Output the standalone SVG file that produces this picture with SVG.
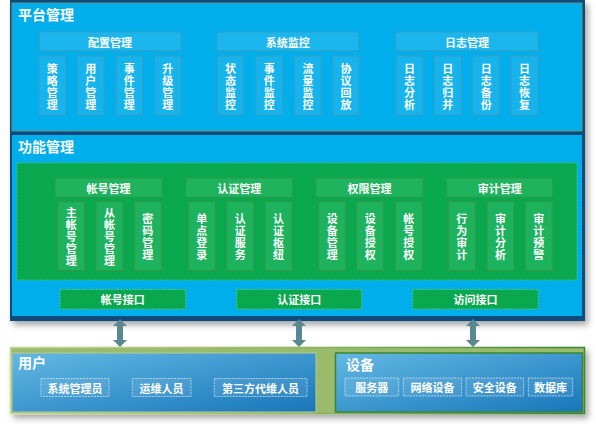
<svg xmlns="http://www.w3.org/2000/svg" width="596" height="432" viewBox="0 0 596 432">
<defs>
<filter id="sh" x="-5%" y="-5%" width="112%" height="120%"><feDropShadow dx="3" dy="4" stdDeviation="3" flood-color="#000" flood-opacity="0.35"/></filter>
<linearGradient id="pg" x1="0" y1="0" x2="1" y2="1"><stop offset="0" stop-color="#63b9e3"/><stop offset="1" stop-color="#1876ba"/></linearGradient>
<linearGradient id="bg" x1="0" y1="0" x2="1" y2="0"><stop offset="0" stop-color="#c9d996"/><stop offset="0.5" stop-color="#8fb463"/><stop offset="1" stop-color="#3a8636"/></linearGradient>
</defs>
<style>
text{font-family:"Noto Sans CJK SC","Noto Sans",sans-serif;font-weight:bold;fill:#fff}
.title{font-size:14px}
.hd{font-size:11px;text-anchor:middle;dominant-baseline:central}
.vt{font-size:11px;text-anchor:middle;dominant-baseline:central}
.bhd{fill:#1cb6ef;stroke:#3c9dbf;stroke-width:1}
.bit{fill:#17b3ec;stroke:#3c9dbf;stroke-width:1}
.ghd{fill:#1fb35e;stroke:#2f9a4c;stroke-width:1}
.git{fill:#1db25d;stroke:#3a9444;stroke-width:1}
.gif{fill:#0aa84e;stroke:#4cc57c;stroke-width:1;stroke-dasharray:2 1}
.lb{fill:rgba(255,255,255,0.08);stroke:rgba(255,255,255,0.55);stroke-width:1;stroke-dasharray:2 1}
.arr{fill:#5b8791}
</style>
<rect width="596" height="432" fill="#fff"/>
<g id="frame" filter="url(#sh)">
<rect x="10" y="0" width="575" height="321" fill="#0c4b7d"/>
</g>
<g id="platform">
<rect x="12" y="3" width="570" height="128" fill="#00aeec" stroke="#5b9a8c" stroke-width="1"/>
<text class="title" x="18" y="20">平台管理</text>
</g>
<g id="config">
<rect class="bhd" x="39.5" y="32" width="141.5" height="18.5"/>
<text class="hd" x="110" y="41.5">配置管理</text>
<rect class="bit" x="39" y="56" width="26.5" height="59"/>
<text class="vt"><tspan x="52.2" y="67.5">策</tspan><tspan x="52.2" y="79.5">略</tspan><tspan x="52.2" y="91.5">管</tspan><tspan x="52.2" y="103.5">理</tspan></text>
<rect class="bit" x="77.5" y="56" width="26.5" height="59"/>
<text class="vt"><tspan x="90.7" y="67.5">用</tspan><tspan x="90.7" y="79.5">户</tspan><tspan x="90.7" y="91.5">管</tspan><tspan x="90.7" y="103.5">理</tspan></text>
<rect class="bit" x="116" y="56" width="26.5" height="59"/>
<text class="vt"><tspan x="129.2" y="67.5">事</tspan><tspan x="129.2" y="79.5">件</tspan><tspan x="129.2" y="91.5">管</tspan><tspan x="129.2" y="103.5">理</tspan></text>
<rect class="bit" x="154.5" y="56" width="26.5" height="59"/>
<text class="vt"><tspan x="167.7" y="67.5">升</tspan><tspan x="167.7" y="79.5">级</tspan><tspan x="167.7" y="91.5">管</tspan><tspan x="167.7" y="103.5">理</tspan></text>
</g>
<g id="monitor">
<rect class="bhd" x="217" y="32" width="141.5" height="18.5"/>
<text class="hd" x="287.7" y="41.5">系统监控</text>
<rect class="bit" x="217.3" y="56" width="26.5" height="59"/>
<text class="vt"><tspan x="230.5" y="67.5">状</tspan><tspan x="230.5" y="79.5">态</tspan><tspan x="230.5" y="91.5">监</tspan><tspan x="230.5" y="103.5">控</tspan></text>
<rect class="bit" x="256" y="56" width="26.5" height="59"/>
<text class="vt"><tspan x="269.2" y="67.5">事</tspan><tspan x="269.2" y="79.5">件</tspan><tspan x="269.2" y="91.5">监</tspan><tspan x="269.2" y="103.5">控</tspan></text>
<rect class="bit" x="294.6" y="56" width="26.5" height="59"/>
<text class="vt"><tspan x="307.9" y="67.5">流</tspan><tspan x="307.9" y="79.5">量</tspan><tspan x="307.9" y="91.5">监</tspan><tspan x="307.9" y="103.5">控</tspan></text>
<rect class="bit" x="332.7" y="56" width="26.5" height="59"/>
<text class="vt"><tspan x="346" y="67.5">协</tspan><tspan x="346" y="79.5">议</tspan><tspan x="346" y="91.5">回</tspan><tspan x="346" y="103.5">放</tspan></text>
</g>
<g id="log">
<rect class="bhd" x="396" y="32" width="142" height="18.5"/>
<text class="hd" x="467" y="41.5">日志管理</text>
<rect class="bit" x="396" y="56" width="27" height="59"/>
<text class="vt"><tspan x="409.5" y="67.5">日</tspan><tspan x="409.5" y="79.5">志</tspan><tspan x="409.5" y="91.5">分</tspan><tspan x="409.5" y="103.5">析</tspan></text>
<rect class="bit" x="434.3" y="56" width="27" height="59"/>
<text class="vt"><tspan x="447.8" y="67.5">日</tspan><tspan x="447.8" y="79.5">志</tspan><tspan x="447.8" y="91.5">归</tspan><tspan x="447.8" y="103.5">并</tspan></text>
<rect class="bit" x="472.7" y="56" width="27" height="59"/>
<text class="vt"><tspan x="486.2" y="67.5">日</tspan><tspan x="486.2" y="79.5">志</tspan><tspan x="486.2" y="91.5">备</tspan><tspan x="486.2" y="103.5">份</tspan></text>
<rect class="bit" x="511" y="56" width="27" height="59"/>
<text class="vt"><tspan x="524.5" y="67.5">日</tspan><tspan x="524.5" y="79.5">志</tspan><tspan x="524.5" y="91.5">恢</tspan><tspan x="524.5" y="103.5">复</tspan></text>
</g>
<g id="function">
<rect x="12" y="135" width="570" height="181" fill="#00aeec"/>
<text class="title" x="18" y="151.5">功能管理</text>
<rect x="17" y="163" width="560" height="117" fill="#0aa84e" stroke="#3fbf72" stroke-width="1" stroke-dasharray="2 1"/>
</g>
<g id="account">
<rect class="ghd" x="55" y="178" width="107" height="19"/>
<text class="hd" x="108.5" y="187.7">帐号管理</text>
<rect class="git" x="57.7" y="201.7" width="27" height="69"/>
<text class="vt"><tspan x="71.2" y="211.7">主</tspan><tspan x="71.2" y="223.8">帐</tspan><tspan x="71.2" y="236">号</tspan><tspan x="71.2" y="248.2">管</tspan><tspan x="71.2" y="260.3">理</tspan></text>
<rect class="git" x="96" y="201.7" width="27" height="69"/>
<text class="vt"><tspan x="109.5" y="211.7">从</tspan><tspan x="109.5" y="223.8">帐</tspan><tspan x="109.5" y="236">号</tspan><tspan x="109.5" y="248.2">管</tspan><tspan x="109.5" y="260.3">理</tspan></text>
<rect class="git" x="134.3" y="201.7" width="27" height="69"/>
<text class="vt"><tspan x="147.8" y="217.5">密</tspan><tspan x="147.8" y="229.8">码</tspan><tspan x="147.8" y="242.1">管</tspan><tspan x="147.8" y="254.4">理</tspan></text>
</g>
<g id="auth">
<rect class="ghd" x="185.7" y="178" width="107" height="19"/>
<text class="hd" x="239.2" y="187.7">认证管理</text>
<rect class="git" x="188.3" y="201.7" width="27" height="69"/>
<text class="vt"><tspan x="201.8" y="217.5">单</tspan><tspan x="201.8" y="229.8">点</tspan><tspan x="201.8" y="242.1">登</tspan><tspan x="201.8" y="254.4">录</tspan></text>
<rect class="git" x="226.7" y="201.7" width="27" height="69"/>
<text class="vt"><tspan x="240.2" y="217.5">认</tspan><tspan x="240.2" y="229.8">证</tspan><tspan x="240.2" y="242.1">服</tspan><tspan x="240.2" y="254.4">务</tspan></text>
<rect class="git" x="265" y="201.7" width="27" height="69"/>
<text class="vt"><tspan x="278.5" y="217.5">认</tspan><tspan x="278.5" y="229.8">证</tspan><tspan x="278.5" y="242.1">枢</tspan><tspan x="278.5" y="254.4">纽</tspan></text>
</g>
<g id="perm">
<rect class="ghd" x="316" y="178" width="107" height="19"/>
<text class="hd" x="369.5" y="187.7">权限管理</text>
<rect class="git" x="318.7" y="201.7" width="27" height="69"/>
<text class="vt"><tspan x="332.2" y="217.5">设</tspan><tspan x="332.2" y="229.8">备</tspan><tspan x="332.2" y="242.1">管</tspan><tspan x="332.2" y="254.4">理</tspan></text>
<rect class="git" x="356.7" y="201.7" width="27" height="69"/>
<text class="vt"><tspan x="370.2" y="217.5">设</tspan><tspan x="370.2" y="229.8">备</tspan><tspan x="370.2" y="242.1">授</tspan><tspan x="370.2" y="254.4">权</tspan></text>
<rect class="git" x="395.3" y="201.7" width="27" height="69"/>
<text class="vt"><tspan x="408.8" y="217.5">帐</tspan><tspan x="408.8" y="229.8">号</tspan><tspan x="408.8" y="242.1">授</tspan><tspan x="408.8" y="254.4">权</tspan></text>
</g>
<g id="audit">
<rect class="ghd" x="446.7" y="178" width="106" height="19"/>
<text class="hd" x="499.7" y="187.7">审计管理</text>
<rect class="git" x="448.3" y="201.7" width="27" height="69"/>
<text class="vt"><tspan x="461.8" y="217.5">行</tspan><tspan x="461.8" y="229.8">为</tspan><tspan x="461.8" y="242.1">审</tspan><tspan x="461.8" y="254.4">计</tspan></text>
<rect class="git" x="487" y="201.7" width="27" height="69"/>
<text class="vt"><tspan x="500.5" y="217.5">审</tspan><tspan x="500.5" y="229.8">计</tspan><tspan x="500.5" y="242.1">分</tspan><tspan x="500.5" y="254.4">析</tspan></text>
<rect class="git" x="525.3" y="201.7" width="27" height="69"/>
<text class="vt"><tspan x="538.8" y="217.5">审</tspan><tspan x="538.8" y="229.8">计</tspan><tspan x="538.8" y="242.1">预</tspan><tspan x="538.8" y="254.4">警</tspan></text>
</g>
<g id="if-account">
<rect class="gif" x="60" y="289.5" width="125.7" height="19.5"/>
<text class="hd" x="122.8" y="299.2">帐号接口</text>
</g>
<g id="if-auth">
<rect class="gif" x="236.7" y="289.5" width="125" height="19.5"/>
<text class="hd" x="299.2" y="299.2">认证接口</text>
</g>
<g id="if-access">
<rect class="gif" x="412.7" y="289.5" width="125.6" height="19.5"/>
<text class="hd" x="475.5" y="299.2">访问接口</text>
</g>
<g id="bottom-bg" filter="url(#sh)">
<rect x="10.5" y="347.5" width="574" height="66" fill="#9aba6c" stroke="url(#bg)" stroke-width="1.5"/>
</g>
<g id="users">
<rect x="12" y="353" width="304" height="59" fill="url(#pg)" stroke="#b7cc8c" stroke-width="1"/>
<text class="title" x="18" y="368">用户</text>
<rect class="lb" x="41" y="378.5" width="68" height="18"/>
<text class="hd" x="75" y="387.5">系统管理员</text>
<rect class="lb" x="132.3" y="378.5" width="58.7" height="18"/>
<text class="hd" x="161.6" y="387.5">运维人员</text>
<rect class="lb" x="214.3" y="378.5" width="92.7" height="18"/>
<text class="hd" x="260.6" y="387.5">第三方代维人员</text>
</g>
<g id="devices">
<rect x="335.5" y="353" width="247" height="59" fill="url(#pg)" stroke="#3a8636" stroke-width="1.5"/>
<text class="title" x="346" y="370">设备</text>
<rect class="lb" x="345" y="378" width="53.7" height="18"/>
<text class="hd" x="371.8" y="387">服务器</text>
<rect class="lb" x="403.3" y="378" width="58.4" height="18"/>
<text class="hd" x="432.5" y="387">网络设备</text>
<rect class="lb" x="466" y="378" width="57.7" height="18"/>
<text class="hd" x="494.8" y="387">安全设备</text>
<rect class="lb" x="528.3" y="378" width="44.4" height="18"/>
<text class="hd" x="550.5" y="387">数据库</text>
</g>
<g id="connectors">
<polygon class="arr" points="120,319 127,326 123,326 123,340 127,340 120,347 113,340 117,340 117,326 113,326"/>
<polygon class="arr" points="299,319 306,326 302,326 302,340 306,340 299,347 292,340 296,340 296,326 292,326"/>
<polygon class="arr" points="473,319 480,326 476,326 476,340 480,340 473,347 466,340 470,340 470,326 466,326"/>
</g>
</svg>
